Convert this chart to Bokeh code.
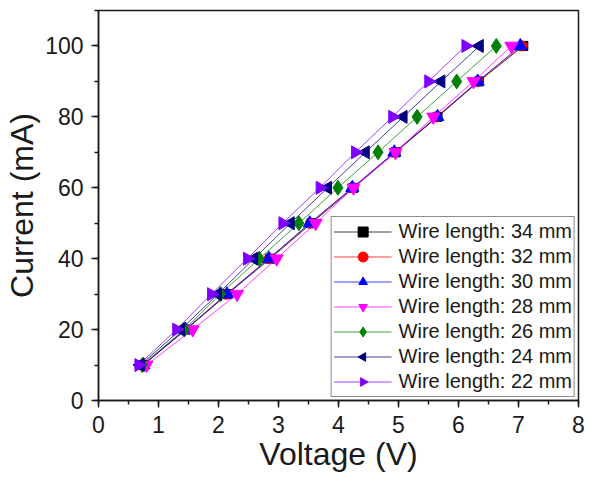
import numpy as np
from bokeh.plotting import figure
from bokeh.models import Range1d, FixedTicker, ColumnDataSource, Legend, LegendItem
from bokeh.embed import file_html
from bokeh.resources import INLINE

current = [10, 20, 30, 40, 50, 60, 70, 80, 90, 100]
v_34 = [0.74, 1.46, 2.15, 2.86, 3.55, 4.25, 4.95, 5.65, 6.34, 7.08]
v_32 = [0.73, 1.45, 2.13, 2.84, 3.53, 4.24, 4.94, 5.63, 6.33, 7.06]
v_30 = [0.75, 1.45, 2.14, 2.84, 3.52, 4.23, 4.93, 5.65, 6.32, 7.03]
v_28 = [0.80, 1.57, 2.31, 2.97, 3.62, 4.25, 4.95, 5.58, 6.25, 6.88]
v_26 = [0.73, 1.43, 2.03, 2.68, 3.34, 3.99, 4.66, 5.31, 5.97, 6.63]
v_24 = [0.70, 1.37, 1.99, 2.59, 3.20, 3.82, 4.45, 5.08, 5.71, 6.35]
v_22 = [0.67, 1.30, 1.88, 2.48, 3.07, 3.69, 4.28, 4.90, 5.50, 6.12]

labels = ["Wire length: 34 mm", "Wire length: 32 mm", "Wire length: 30 mm",
          "Wire length: 28 mm", "Wire length: 26 mm", "Wire length: 24 mm",
          "Wire length: 22 mm"]
series = [v_34, v_32, v_30, v_28, v_26, v_24, v_22]
colors = ["#000000", "#FF0000", "#0000FF", "#FF00FF", "#008000", "#000080", "#8000FF"]
# marker kinds: scatter markers, or triangles ("tri") drawn as 3-gons with a rotation
markers = ["square", "circle", "tri", "tri", "diamond", "tri", "tri"]
angles = [0, 0, 0, np.pi, 0, np.pi / 2, -np.pi / 2]
sizes = [9, 10, 7.5, 7.5, 15, 7.5, 7.5]

FONT = "Liberation Sans"
INK = "#1a1a1a"

p = figure(width=588, height=474, output_backend="svg", toolbar_location=None,
           x_range=Range1d(0, 8), y_range=Range1d(0, 110),
           min_border_left=98, min_border_right=10, min_border_top=10, min_border_bottom=74,
           x_axis_label="Voltage (V)", y_axis_label="Current (mA)")
p.grid.visible = False
p.outline_line_color = INK
p.outline_line_width = 1.5

items = []
for v, lab, c, m, a, s in zip(series, labels, colors, markers, angles, sizes):
    src = ColumnDataSource(dict(x=v, y=current))
    rl = p.line("x", "y", source=src, line_color=c, line_width=1, line_alpha=0.75)
    if m == "tri":
        rs = p.ngon("x", "y", source=src, n=3, radius=s, radius_units="screen",
                    angle=a, fill_color=c, line_color=c)
    else:
        rs = p.scatter("x", "y", source=src, marker=m, size=s,
                       fill_color=c, line_color=c)
    items.append(LegendItem(label=lab, renderers=[rl, rs]))

p.xaxis.ticker = FixedTicker(ticks=list(range(0, 9)), minor_ticks=[i * 0.5 for i in range(17)])
p.yaxis.ticker = FixedTicker(ticks=list(range(0, 101, 20)), minor_ticks=list(range(0, 111, 10)))
for ax in (p.xaxis, p.yaxis):
    ax.axis_line_color = INK
    ax.axis_line_width = 1.5
    ax.major_tick_line_color = INK
    ax.minor_tick_line_color = INK
    ax.major_tick_line_width = 1.5
    ax.minor_tick_line_width = 1.5
    ax.major_tick_out = 7
    ax.major_tick_in = 0
    ax.minor_tick_out = 4
    ax.minor_tick_in = 0
    ax.major_label_text_font = FONT
    ax.major_label_text_font_size = "23px"
    ax.major_label_text_color = INK
    ax.axis_label_text_font = FONT
    ax.axis_label_text_font_size = "32px"
    ax.axis_label_text_font_style = "normal"
    ax.axis_label_text_color = INK
p.yaxis.major_label_standoff = 8
p.xaxis.major_label_standoff = 8
p.yaxis.axis_label_standoff = 2
p.xaxis.axis_label_standoff = 0

leg = Legend(items=items, location="bottom_right")
leg.label_text_font = FONT
leg.label_text_font_size = "20px"
leg.label_text_color = INK
leg.glyph_width = 58
leg.glyph_height = 25
leg.label_height = 25
leg.spacing = 0
leg.padding = 2
leg.margin = 3
leg.label_standoff = 7
leg.border_line_color = INK
leg.border_line_width = 1
leg.background_fill_alpha = 1
p.add_layout(leg, "center")

open("out.html", "w").write(file_html(p, INLINE))
